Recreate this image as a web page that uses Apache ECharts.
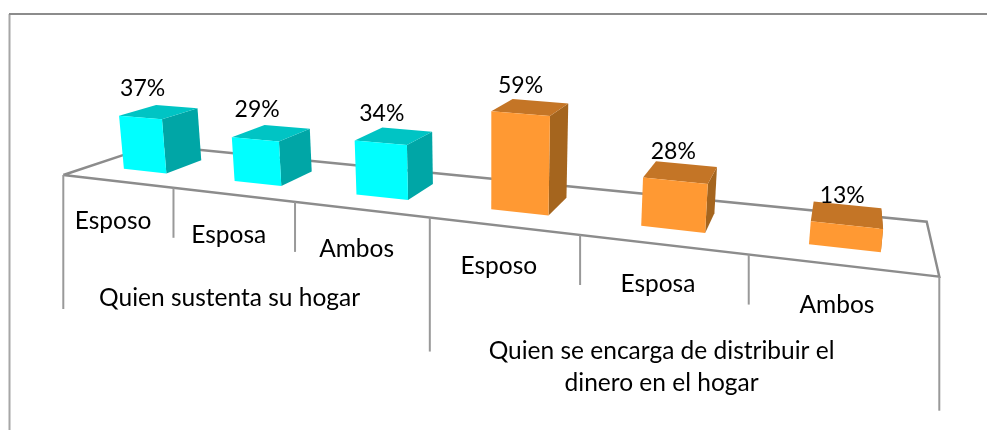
<!DOCTYPE html>
<html><head><meta charset="utf-8">
<style>html,body{margin:0;padding:0;background:#fff}#c{width:987px;height:430px}</style>
<script src="https://cdn.jsdelivr.net/npm/echarts@6/dist/echarts.min.js"></script>
</head><body><div id="c"></div>
<script>
const categories = ['Esposo','Esposa','Ambos','Esposo','Esposa','Ambos'];
const groupNames = ['Quien sustenta su hogar','Quien se encarga de distribuir el\ndinero en el hogar'];
const sustentaValues = [37,29,34];
const distribuirValues = [59,28,13];
const tickLabels = [0,1,2,3,4,5,6];

const FONT='Lato';
const G={left:63,width:876,top:100,height:100};
// floor perspective
const P=[[63.3,175],[939.3,276.7],[926.7,221.7],[153,145.2]];
const H=(function(){const [a,b,c,d]=P;const dx1=b[0]-c[0],dy1=b[1]-c[1],dx2=d[0]-c[0],dy2=d[1]-c[1];
 const sx=a[0]-b[0]+c[0]-d[0],sy=a[1]-b[1]+c[1]-d[1];const det=dx1*dy2-dx2*dy1;
 const g=(sx*dy2-dx2*sy)/det,h=(dx1*sy-sx*dy1)/det;
 return {a:b[0]-a[0]+g*b[0],b:d[0]-a[0]+h*d[0],c:a[0],d:b[1]-a[1]+g*b[1],e:d[1]-a[1]+h*d[1],f:a[1],g,h};})();
function floor(u,w){const q=H.g*u+H.h*w+1;return [(H.a*u+H.b*w+H.c)/q,(H.d*u+H.e*w+H.f)/q];}
const BAR_HALF=0.033,W0=0.3,W1=0.72,DEPTH_FADE=0.13;
function proj(u,w,h){const p=floor(u,w);const t=(p[0]-124)/685;
 const s=(1.43+0.533*t-0.193*t*t)*(1-(w-W0)*DEPTH_FADE);
 return [p[0]+h*s*(p[0]-490)*0.00025,p[1]-h*s];}
const toU=px=>(px-G.left)/G.width;
function bandU(api,i){return toU(api.coord([i,0])[0]);}

function barItem(colors){return function(params,api){
  const i=api.value(0),v=api.value(1);
  const base=api.coord([i,0]),top=api.coord([i,v]);
  const u=toU(base[0])+0.0005*i,h=base[1]-top[1];
  const u0=u-BAR_HALF,u1=u+BAR_HALF;
  const ftl=proj(u0,W0,h),ftr=proj(u1,W0,h),fbl=proj(u0,W0,0),fbr=proj(u1,W0,0),
        btl=proj(u0,W1,h),btr=proj(u1,W1,h),bbr=proj(u1,W1,0);
  const cx=(ftl[0]+ftr[0]+btl[0]+btr[0])/4,cy=(ftl[1]+ftr[1]+btl[1]+btr[1])/4;
  const poly=(pts,fill)=>({type:'polygon',shape:{points:pts},style:{fill}});
  return {type:'group',children:[
    poly([ftr,btr,bbr,fbr],colors.side),
    poly([ftl,btl,btr,ftr],colors.top),
    poly([ftl,ftr,fbr,fbl],colors.front),
    {type:'text',style:{text:v+'%',x:cx-16+(cx-158)*0.016,y:cy-24+(cx-158)*0.006,align:'center',verticalAlign:'middle',font:'23px '+FONT,fill:'#000'}}
  ]};
};}
const frontAt=u=>floor(u,0);

const option={
  animation:false,
  backgroundColor:'#fff',
  graphic:[
    {type:'line',shape:{x1:9.5,y1:430,x2:9.5,y2:14},style:{stroke:'#a6a6a6',lineWidth:2},silent:true},
    {type:'line',shape:{x1:9,y1:14,x2:987,y2:14},style:{stroke:'#8c8c8c',lineWidth:2},silent:true}
  ],
  grid:{left:G.left,width:G.width,top:G.top,height:G.height},
  xAxis:{type:'category',data:categories,show:false},
  yAxis:{type:'value',min:0,max:100,show:false},
  series:[
    {type:'custom',name:'base',z:1,silent:true,data:[[0]],encode:{x:0},
     renderItem:function(){const s={stroke:'#8c8c8c',lineWidth:2.4,fill:null};
       return {type:'polyline',shape:{points:[floor(0,0),floor(0,1),floor(1,1),floor(1,0),floor(0,0)]},style:s};}},
    {type:'custom',name:'ticks',z:1,silent:true,data:tickLabels.map(t=>[t]),encode:{x:0},
     renderItem:function(params,api){const t=api.value(0);const p=frontAt(t/6);const len=t%3===0?134:50;
       return {type:'line',shape:{x1:p[0],y1:p[1],x2:p[0],y2:p[1]+len},style:{stroke:'#999',lineWidth:2}};}},
    {type:'custom',name:'categories',z:3,silent:true,data:categories.map((c,i)=>[i]),encode:{x:0},
     renderItem:function(params,api){const i=api.value(0);const p=frontAt(bandU(api,i));
       return {type:'text',style:{text:categories[i],x:p[0]-4,y:p[1]+40,align:'center',verticalAlign:'middle',font:'24.5px '+FONT,fill:'#000'}};}},
    {type:'custom',name:'groups',z:3,silent:true,data:[[1],[4]],encode:{x:0},
     renderItem:function(params,api){const i=api.value(0);const g=(i-1)/3;
       const a=frontAt((i-1)/6),b=frontAt((i+2)/6),mx=(a[0]+b[0])/2-(g?23:17);
       const two=g===1;
       return {type:'text',style:{text:groupNames[g],x:mx,y:two?367:298,align:'center',verticalAlign:'middle',lineHeight:32,font:'24.5px '+FONT,fill:'#000'}};}},
    {type:'custom',name:'Quien sustenta su hogar',z:2,silent:true,
     data:sustentaValues.map((v,i)=>[i,v]),encode:{x:0,y:1},
     renderItem:barItem({front:'#00FFFF',side:'#00A6A6',top:'#00C4C4'})},
    {type:'custom',name:'Quien se encarga de distribuir el dinero en el hogar',z:2,silent:true,
     data:distribuirValues.map((v,i)=>[i+3,v]),encode:{x:0,y:1},
     renderItem:barItem({front:'#FF9933',side:'#A5651E',top:'#C47526'})}
  ]
};
echarts.init(document.getElementById('c'),null,{renderer:'canvas'}).setOption(option);
</script></body></html>
